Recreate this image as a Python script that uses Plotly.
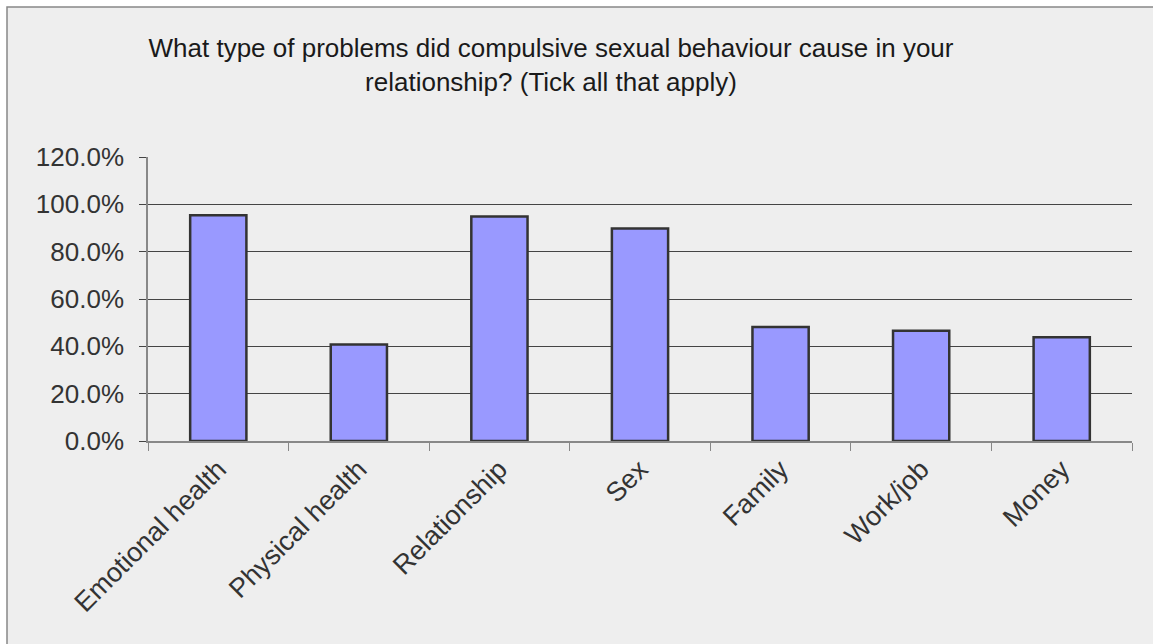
import plotly.graph_objects as go

categories = ["Emotional health", "Physical health", "Relationship", "Sex", "Family", "Work/job", "Money"]
values = [0.954, 0.408, 0.949, 0.898, 0.482, 0.466, 0.438]
title_text = "What type of problems did compulsive sexual behaviour cause in your<br>relationship? (Tick all that apply)"

W, H = 1153, 644
L, R, T, B = 148, 21, 157, 203
pw, ph = W - L - R, H - T - B

def px2x(px):
    return (px - L) / pw

def py2y(py):
    return (H - B - py) / ph

fig = go.Figure()
fig.add_trace(go.Bar(
    x=categories, y=values, width=0.4,
    marker=dict(color="#9999ff", line=dict(color="#333333", width=2.5)),
))

fig.add_shape(type="rect", xref="paper", yref="paper", layer="below",
              x0=px2x(7), x1=px2x(1165), y0=py2y(660), y1=py2y(7),
              fillcolor="#eeeeee", line=dict(color="#888888", width=1.5))

fig.update_layout(
    width=W, height=H,
    margin=dict(l=L, r=R, t=T, b=B, autoexpand=False),
    paper_bgcolor="white", plot_bgcolor="#eeeeee",
    showlegend=False,
    bargap=0.6,
    title=dict(text=title_text, x=px2x(551), xref="paper", xanchor="center",
               y=1 - 57 / H, yanchor="middle",
               font=dict(family="Liberation Sans, Arial", size=26, color="#1a1a1a")),
    font=dict(family="Liberation Sans, Arial", color="#333333"),
)
fig.update_xaxes(
    showline=True, linecolor="#888888", linewidth=1.5,
    ticks="outside", tickson="boundaries", ticklen=8, tickcolor="#888888",
    tickangle=-45, tickfont=dict(size=27, color="#333333"),
    showgrid=False,
)
fig.update_yaxes(
    range=[0, 1.2], dtick=0.2, tickformat=".1%",
    showline=True, linecolor="#888888", linewidth=1.5,
    ticks="outside", ticklen=7, tickcolor="#444444",
    showgrid=True, gridcolor="#444444", gridwidth=1,
    zeroline=False,
    tickfont=dict(size=26, color="#333333"),
    ticklabelstandoff=10,
)
fig.write_html("out.html")
